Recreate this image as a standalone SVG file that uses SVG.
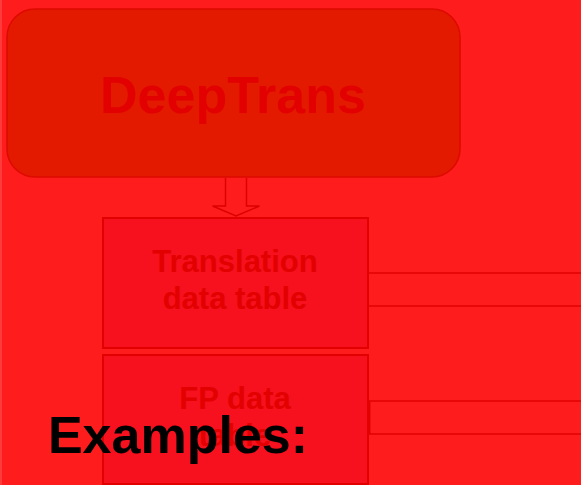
<svg xmlns="http://www.w3.org/2000/svg" width="581" height="485" viewBox="0 0 581 485">
  <style>
    text { font-family: "Liberation Sans", Arial, sans-serif; font-weight: bold; text-anchor: middle; }
    .faint { fill: #e30000; }
    .box { fill: #f7101d; stroke: #e30000; stroke-width: 2; }
    .rail { fill: none; stroke: #e30000; stroke-width: 1.5; }
  </style>
  <!-- backdrop -->
  <rect x="0" y="0" width="581" height="485" fill="#ff1c1c"/>
  <rect x="0" y="0" width="2" height="485" fill="#ff3a3a"/>

  <g id="deeptrans">
    <rect x="7" y="9" width="453" height="168" rx="28" ry="28" fill="#e31a00" stroke="#dd0a00" stroke-width="1.5"/>
    <text class="faint" x="233" y="113" font-size="52">DeepTrans</text>
  </g>

  <g id="connectors">
    <path d="M225.5 178 V206 H212.5 L236 216 L259.5 206 H246.5 V178" fill="none" stroke="#dd0000" stroke-width="1.5" stroke-linejoin="miter"/>
    <rect class="rail" x="368" y="273" width="220" height="33"/>
    <rect class="rail" x="369.7" y="401" width="220" height="33"/>
  </g>

  <g id="translation-table">
    <rect class="box" x="103" y="218" width="265" height="130"/>
    <text class="faint" x="235" y="272" font-size="31">Translation</text>
    <text class="faint" x="235" y="309" font-size="31">data table</text>
  </g>

  <g id="fp-table">
    <rect class="box" x="103" y="355" width="265" height="129"/>
    <text class="faint" x="235" y="408.5" font-size="31">FP data</text>
    <text class="faint" x="235" y="446" font-size="31">table</text>
  </g>

  <g id="examples">
    <text x="178" y="453" font-size="52" fill="#000000">Examples:</text>
  </g>
</svg>
